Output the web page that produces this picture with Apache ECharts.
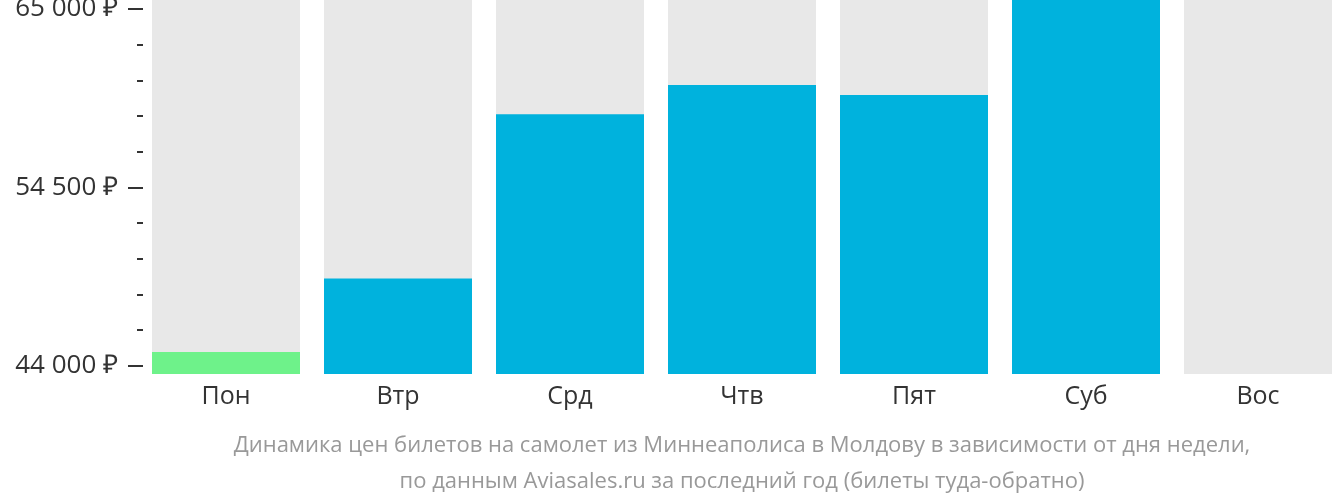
<!DOCTYPE html>
<html>
<head>
<meta charset="utf-8">
<script src="https://cdn.jsdelivr.net/npm/echarts@6/dist/echarts.min.js"></script>
<style>html,body{margin:0;padding:0;background:#fff}#c{width:1332px;height:502px}</style>
</head>
<body>
<div id="c"></div>
<script>
const categories = ['Пон', 'Втр', 'Срд', 'Чтв', 'Пят', 'Суб', 'Вос'];
const prices = [44800, 49130, 58810, 60520, 59930, 65600, null];
const barColors = ['#6ef28a', '#00b2dd', '#00b2dd', '#00b2dd', '#00b2dd', '#00b2dd', '#00b2dd'];
const majorTicks = [44000, 54500, 65000];
const minorTicks = [44000, 46100, 48200, 50300, 52400, 54500, 56600, 58700, 60800, 62900, 65000];
const footnote = ['Динамика цен билетов на самолет из Миннеаполиса в Молдову в зависимости от дня недели,',
                  'по данным Aviasales.ru за последний год (билеты туда-обратно)'];
const yMin = 43511, yMax = 65530;

const chart = echarts.init(document.getElementById('c'));
const fmt = v => String(v).replace(/\B(?=(\d{3})+(?!\d))/g, ' ') + ' ₽';
chart.setOption({
  animation: false,
  textStyle: { fontFamily: 'Open Sans' },
  grid: { left: 140, top: 0, width: 1204, height: 374, outerBoundsMode: 'none', containLabel: false },
  xAxis: {
    type: 'category', data: categories,
    axisLine: { show: false }, axisTick: { show: false },
    axisLabel: { fontSize: 25, color: '#333', margin: 10, fontFamily: 'Open Sans' }
  },
  yAxis: [
    {
      type: 'value', min: yMin, max: yMax, offset: -3,
      splitLine: { show: false }, axisLine: { show: false },
      axisTick: { show: true, customValues: majorTicks, length: 15, lineStyle: { color: '#333', width: 2 } },
      axisLabel: { customValues: majorTicks, formatter: fmt, fontSize: 26, color: '#333', margin: 25,
                   padding: [3, 0, 0, 0], fontFamily: 'Open Sans' }
    },
    {
      type: 'value', min: yMin, max: yMax, position: 'left', offset: -3,
      splitLine: { show: false }, axisLine: { show: false },
      axisTick: { show: true, customValues: minorTicks, length: 6, lineStyle: { color: '#333', width: 2 } },
      axisLabel: { show: false }
    }
  ],
  series: [
    {
      type: 'bar', data: categories.map(() => yMax), barWidth: 148, barGap: '-100%',
      itemStyle: { color: '#e8e8e8' }, silent: true, z: 1
    },
    {
      type: 'bar', barWidth: 148, clip: true, z: 2,
      data: prices.map((v, i) => v == null ? '-' : { value: v, itemStyle: { color: barColors[i] } })
    }
  ],
  graphic: footnote.map((t, i) => ({
    type: 'text', x: 742, y: 446 + i * 36,
    style: { text: t, fill: '#999', fontSize: 22, fontFamily: 'Open Sans', textAlign: 'center', textVerticalAlign: 'middle' }
  }))
});
</script>
</body>
</html>
